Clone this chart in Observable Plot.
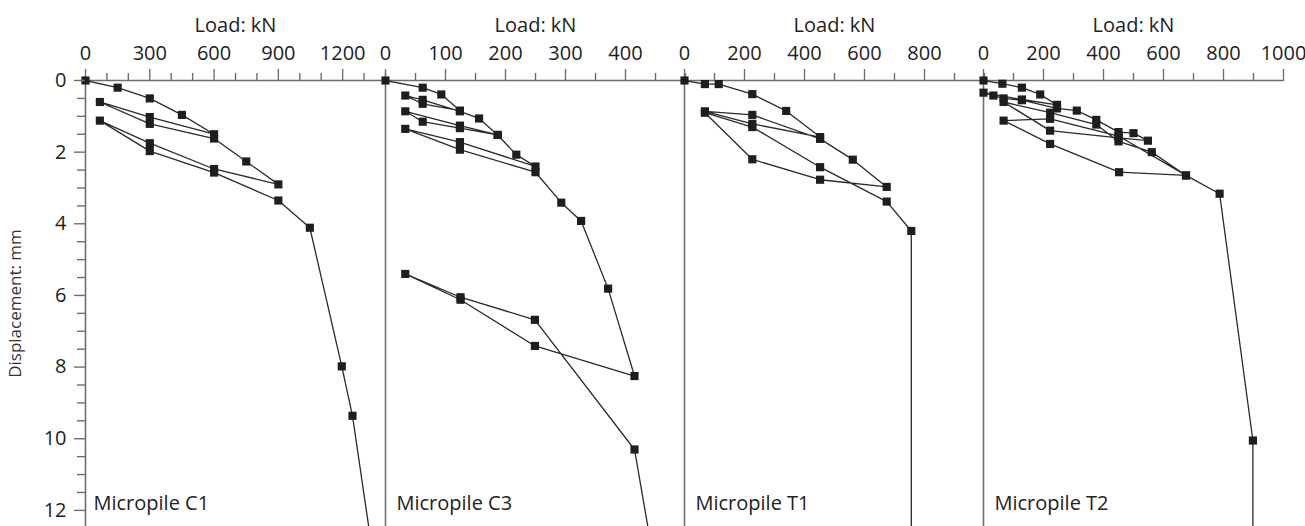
<!DOCTYPE html>
<html>
<head>
<meta charset="utf-8">
<script src="https://cdn.jsdelivr.net/npm/d3@7"></script>
<script src="https://cdn.jsdelivr.net/npm/@observablehq/plot@0.6"></script>
<style>
  body { margin: 0; background: #fff; }
  #wrap { position: relative; width: 1305px; height: 526px; overflow: hidden; }
  #wrap svg { position: absolute; top: 0; }
</style>
</head>
<body>
<div id="wrap"></div>
<script>
// ---- Data (load kN, displacement mm) ----
const c1Load = [0, 150, 300, 450, 600, 300, 67, 300, 600, 750, 900, 600, 300, 67, 300, 600, 900, 1047, 1196, 1246, 1340];
const c1Disp = [0, 0.2, 0.5, 0.96, 1.5, 1.02, 0.6, 1.21, 1.62, 2.26, 2.9, 2.47, 1.75, 1.12, 1.97, 2.57, 3.35, 4.11, 7.98, 9.36, 13.2];

const c3Load = [0, 62, 93, 124, 62, 33, 62, 124, 156, 187, 124, 33, 62, 124, 187, 218, 250, 124, 33, 124, 250, 293, 326, 371, 415, 249, 125, 33, 125, 249, 415, 445];
const c3Disp = [0, 0.2, 0.39, 0.84, 0.65, 0.42, 0.54, 0.86, 1.06, 1.52, 1.26, 0.86, 1.15, 1.33, 1.52, 2.07, 2.4, 1.72, 1.35, 1.93, 2.56, 3.41, 3.92, 5.81, 8.25, 7.41, 6.12, 5.4, 6.05, 6.68, 10.3, 13.2];

const t1Load = [0, 68, 114, 226, 339, 452, 226, 68, 226, 452, 561, 674, 452, 226, 68, 226, 452, 674, 756, 756];
const t1Disp = [0, 0.1, 0.1, 0.38, 0.85, 1.58, 1.21, 0.86, 0.96, 1.63, 2.21, 2.97, 2.77, 2.2, 0.9, 1.3, 2.42, 3.38, 4.2, 13];

const t2Load = [0, 63, 128, 189, 245, 128, 0, 33, 67, 128, 245, 311, 376, 450, 500, 548, 450, 222, 67, 222, 376, 450, 561, 675, 452, 222, 67, 222, 450, 675, 787, 898, 898];
const t2Disp = [0, 0.09, 0.2, 0.39, 0.68, 0.53, 0.34, 0.42, 0.5, 0.55, 0.78, 0.84, 1.1, 1.44, 1.47, 1.68, 1.6, 1.4, 0.6, 0.9, 1.23, 1.7, 2.0, 2.65, 2.56, 1.77, 1.12, 1.07, 1.55, 2.65, 3.16, 10.05, 13];

// ---- Axis ticks and labels ----
const panelNames = ["Micropile C1", "Micropile C3", "Micropile T1", "Micropile T2"];
const xMax = [1400, 500, 1000, 1000];
const xMajor = [[0, 300, 600, 900, 1200], [0, 100, 200, 300, 400], [0, 200, 400, 600, 800], [0, 200, 400, 600, 800, 1000]];
const xStep = [100, 50, 100, 100];
const yMajor = [0, 2, 4, 6, 8, 10, 12];
const yMinor = [0.5, 1, 1.5, 2.5, 3, 3.5, 4.5, 5, 5.5, 6.5, 7, 7.5, 8.5, 9, 9.5, 10.5, 11, 11.5];
const xTitle = "Load: kN";
const yTitle = "Displacement: mm";

const series = [[c1Load, c1Disp], [c3Load, c3Disp], [t1Load, t1Disp], [t2Load, t2Disp]];
const panelStart = [85, 385, 684, 983];
const panelWidth = 300;
const yMax = 12.45;
const axisGray = "#6e6e6e";
const ink = "#1e1e1e";
const fs = 20;

series.forEach(([load, disp], i) => {
  const data = load.map((x, j) => ({x, y: disp[j]}));
  const showY = i === 0;
  const mL = showY ? 85 : 12;
  const mR = 28;
  const minor = d3.range(0, xMax[i] + 0.1, xStep[i]).filter(v => !xMajor[i].includes(v));
  const marks = [
    Plot.ruleX([0], {stroke: axisGray, strokeWidth: 1.6}),
    Plot.ruleY([0], {stroke: axisGray, strokeWidth: 1.6}),
    Plot.axisX(minor, {anchor: "top", tickSize: 8, tickFormat: () => "", label: null, stroke: axisGray, strokeWidth: 1.4}),
    Plot.axisX(xMajor[i], {anchor: "top", tickSize: 12, tickPadding: 9, tickFormat: d => String(d), label: null, stroke: axisGray, strokeWidth: 1.4, fill: "#222", fontSize: fs}),
    Plot.text([xTitle], {frameAnchor: "top", dy: -63, fill: "#222", fontSize: fs}),
    Plot.line(data, {x: "x", y: "y", stroke: "#2a2a2a", strokeWidth: 1.3, clip: true}),
    Plot.dot(data, {x: "x", y: "y", filter: d => d.y <= yMax, symbol: "square", r: 4.6, fill: ink, stroke: null}),
    Plot.text([panelNames[i]], {frameAnchor: "bottom-left", dx: showY ? 8 : 11, dy: -17, textAnchor: "start", fill: "#222", fontSize: fs})
  ];
  if (showY) {
    marks.push(
      Plot.axisY(yMinor, {anchor: "left", tickSize: 8, tickFormat: () => "", label: null, stroke: axisGray, strokeWidth: 1.4}),
      Plot.axisY(yMajor, {anchor: "left", tickSize: 11, tickPadding: 8, tickFormat: d => String(d), label: null, stroke: axisGray, strokeWidth: 1.4, fill: "#222", fontSize: fs}),
      Plot.text([yTitle], {frameAnchor: "left", dx: -70, rotate: -90, textAnchor: "middle", fill: "#333", fontSize: 17})
    );
  }
  const svg = Plot.plot({
    width: mL + panelWidth + mR,
    height: 526,
    marginTop: 80,
    marginBottom: 0,
    marginLeft: mL,
    marginRight: mR,
    x: {domain: [0, xMax[i]], axis: null},
    y: {domain: [0, yMax], reverse: true, axis: null},
    style: {fontFamily: "'Open Sans', sans-serif", fontSize: "20px", color: "#222", background: "transparent", overflow: "visible"},
    marks
  });
  svg.style.left = (panelStart[i] - mL) + "px";
  document.getElementById("wrap").appendChild(svg);
});
</script>
</body>
</html>
